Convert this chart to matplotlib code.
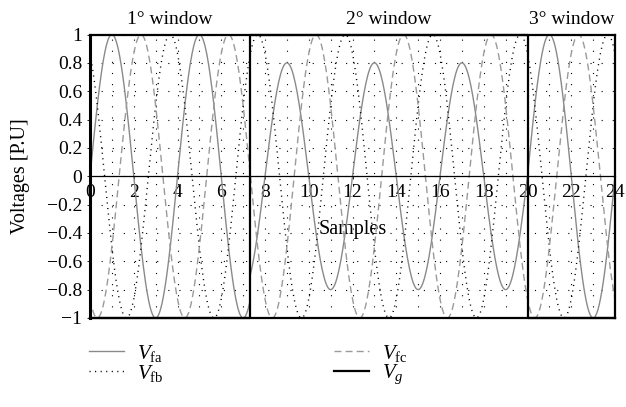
import numpy as np
import matplotlib.pyplot as plt
from matplotlib.ticker import MultipleLocator

plt.rcParams['font.family'] = ['Liberation Serif', 'DejaVu Serif']
plt.rcParams['mathtext.fontset'] = 'custom'
plt.rcParams['mathtext.rm'] = 'Liberation Serif'
plt.rcParams['mathtext.it'] = 'Liberation Serif:italic'

# analysis windows (in samples)
window_edges = [0, 7.3, 20, 24]
window_names = ['1° window', '2° window', '3° window']

# one cycle every 4 samples
cycle_samples = 4
# phase angle of each fault voltage [deg]
phase_fa = 0
phase_fb = 120
phase_fc = -120
# peak voltage [P.U] of each phase inside each window
peak_fa = [1.0, 0.8, 1.0]
peak_fb = [1.0, 1.0, 1.0]
peak_fc = [1.0, 1.0, 1.0]
# gate signal level inside each window
vg_level = [-1, 1, -1]

x_ticks = list(range(0, 25, 2))
y_ticks = [-1, -0.8, -0.6, -0.4, -0.2, 0, 0.2, 0.4, 0.6, 0.8, 1]
y_labels = ['\u22121', '\u22120.8', '\u22120.6', '\u22120.4', '\u22120.2', '0',
            '0.2', '0.4', '0.6', '0.8', '1']


def phase_wave(peaks, phase):
    ts, vs = [], []
    for i in range(len(peaks)):
        t = np.linspace(window_edges[i], window_edges[i + 1], 300)
        ts.append(t)
        vs.append(peaks[i] * np.sin(2 * np.pi * t / cycle_samples + np.radians(phase)))
    return np.concatenate(ts), np.concatenate(vs)


fig = plt.figure(figsize=(6.26, 4.07), dpi=100)
ax = fig.add_axes([90 / 626, 1 - 318 / 407, 525 / 626, 283.5 / 407])

t, v = phase_wave(peak_fa, phase_fa)
l_fa, = ax.plot(t, v, color='#8a8a8a', lw=1.0, label=r'$V_{\mathrm{fa}}$')
t, v = phase_wave(peak_fb, phase_fb)
l_fb, = ax.plot(t, v, color='black', lw=1.0, ls=(0, (0.8, 3.2)), label=r'$V_{\mathrm{fb}}$')
t, v = phase_wave(peak_fc, phase_fc)
l_fc, = ax.plot(t, v, color='#9a9a9a', lw=1.0, ls=(0, (5, 3)), label=r'$V_{\mathrm{fc}}$')

# gate signal as a step between windows
vg_x = []
vg_y = []
for i, lvl in enumerate(vg_level):
    vg_x += [window_edges[i], window_edges[i + 1]]
    vg_y += [lvl, lvl]
l_vg, = ax.plot(vg_x, vg_y, color='black', lw=1.6, clip_on=False, label=r'$V_g$')
ax.axhline(-1, color='black', lw=1.6, clip_on=False)

ax.set_xlim(0, 24)
ax.set_ylim(-1, 1)

for side in ['left', 'right', 'top']:
    ax.spines[side].set_linewidth(1.6)
ax.spines['left'].set_linewidth(2.2)
ax.spines['bottom'].set_position(('data', 0))
ax.spines['bottom'].set_linewidth(0.9)

ax.set_xticks(x_ticks)
ax.xaxis.set_minor_locator(MultipleLocator(1))
ax.set_yticks(y_ticks)
ax.set_yticklabels(y_labels)
ax.tick_params(axis='both', which='major', labelsize=14, length=2.5, width=0.6)
ax.tick_params(axis='x', which='major', pad=3)
ax.tick_params(axis='y', which='major', pad=3)
ax.tick_params(axis='x', which='minor', length=0)

ax.grid(True, which='both', axis='x', color='black', lw=0.8, ls=(0, (1, 9)))
ax.grid(True, which='major', axis='y', color='black', lw=0.8, ls=(0, (1, 9)))
ax.set_axisbelow(True)

ax.set_ylabel('Voltages [P.U]', fontsize=14.5, labelpad=12)
ax.set_xlabel('Samples', fontsize=14.5, labelpad=14)

for i, name in enumerate(window_names):
    ax.annotate(name, xy=((window_edges[i] + window_edges[i + 1]) / 2, 1),
                xytext=(0, 11), textcoords='offset points',
                ha='center', va='center', fontsize=14)

fig.legend(handles=[l_fa, l_fb, l_fc, l_vg], ncol=2, loc='upper left',
           bbox_to_anchor=(70 / 626, 1 - 324 / 407), frameon=False,
           fontsize=15, handlelength=1.7, handletextpad=0.6,
           columnspacing=8.2, labelspacing=-0.05)

fig.savefig('out.png', dpi=100)
